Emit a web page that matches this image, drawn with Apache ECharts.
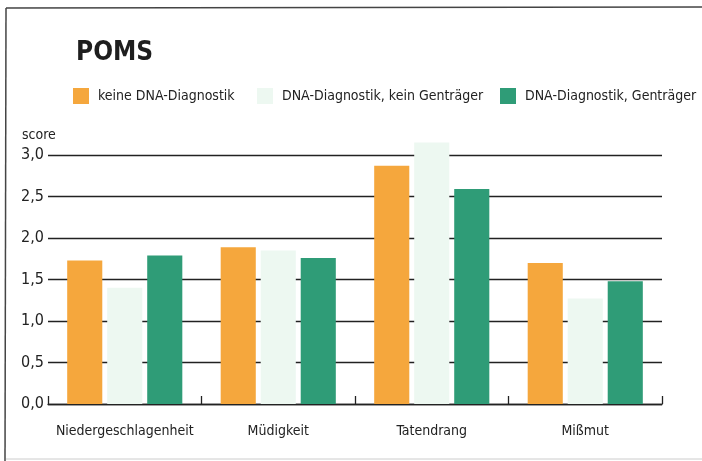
<!DOCTYPE html>
<html>
<head>
<meta charset="utf-8">
<script src="https://cdn.jsdelivr.net/npm/echarts@6/dist/echarts.min.js"></script>
<style>
html,body{margin:0;padding:0;background:#fff;}
#c{width:702px;height:461px;}
</style>
</head>
<body>
<div id="c"></div>
<script>
const categories = ['Niedergeschlagenheit', 'Müdigkeit', 'Tatendrang', 'Mißmut'];
const seriesNames = ['keine DNA-Diagnostik', 'DNA-Diagnostik, kein Genträger', 'DNA-Diagnostik, Genträger'];
const keineDNA = [1.73, 1.89, 2.87, 1.70];
const keinGentraeger = [1.40, 1.85, 3.15, 1.27];
const gentraeger = [1.79, 1.76, 2.59, 1.48];
const yTicks = [0, 0.5, 1.0, 1.5, 2.0, 2.5, 3.0];

const FONT = "'Liberation Sans Narrow', 'DejaVu Sans Condensed', 'Roboto', sans-serif";
const colors = ['#f5a73d', '#edf8f1', '#2f9c77'];
const values = [keineDNA, keinGentraeger, gentraeger];
const legendLefts = [68, 252, 495];

const chart = echarts.init(document.getElementById('c'));
chart.setOption({
  animation: false,
  textStyle: { fontFamily: FONT },
  title: {
    text: 'POMS',
    left: 71, top: 35,
    textStyle: { fontFamily: FONT, fontSize: 26, fontWeight: 'bold', color: '#1e1e1e' }
  },
  legend: seriesNames.map((n, i) => ({
    left: legendLefts[i], top: 83,
    itemWidth: 16, itemHeight: 16,
    icon: 'rect',
    data: [n],
    textStyle: { fontFamily: FONT, fontSize: 14, color: '#222', padding: [0, 0, 0, 4] }
  })),
  grid: { left: 48, right: 40, top: 155, bottom: 57 },
  xAxis: {
    type: 'category',
    data: categories,
    axisLine: { lineStyle: { color: '#222', width: 1.3 } },
    axisTick: { show: true, inside: true, length: 8, interval: 0, lineStyle: { color: '#222', width: 1.3 } },
    axisLabel: { fontFamily: FONT, fontSize: 14, color: '#222', margin: 20, interval: 0 }
  },
  yAxis: {
    type: 'value',
    min: yTicks[0], max: yTicks[yTicks.length - 1], interval: 0.5,
    axisLine: { show: false },
    axisTick: { show: false },
    splitLine: { lineStyle: { color: '#222', width: 1.3 } },
    axisLabel: {
      fontFamily: FONT, fontSize: 16, color: '#222', margin: 4,
      formatter: v => v.toFixed(1).replace('.', ',')
    }
  },
  graphic: [
    { type: 'text', left: 22, top: 128, style: { text: 'score', fontFamily: FONT, fontSize: 14, fill: '#222' } },
    { type: 'line', shape: { x1: 6, y1: 8, x2: 702, y2: 7 }, style: { stroke: '#444', lineWidth: 1.5 } },
    { type: 'line', shape: { x1: 6, y1: 8, x2: 5, y2: 461 }, style: { stroke: '#444', lineWidth: 1.5 } },
    { type: 'line', shape: { x1: 6, y1: 459, x2: 702, y2: 459 }, style: { stroke: '#ccc', lineWidth: 1 } }
  ],
  series: seriesNames.map((n, i) => ({
    name: n,
    type: 'bar',
    data: values[i],
    clip: false,
    barGap: '14%',
    barCategoryGap: '25%',
    itemStyle: { color: colors[i] }
  }))
});
</script>
</body>
</html>
